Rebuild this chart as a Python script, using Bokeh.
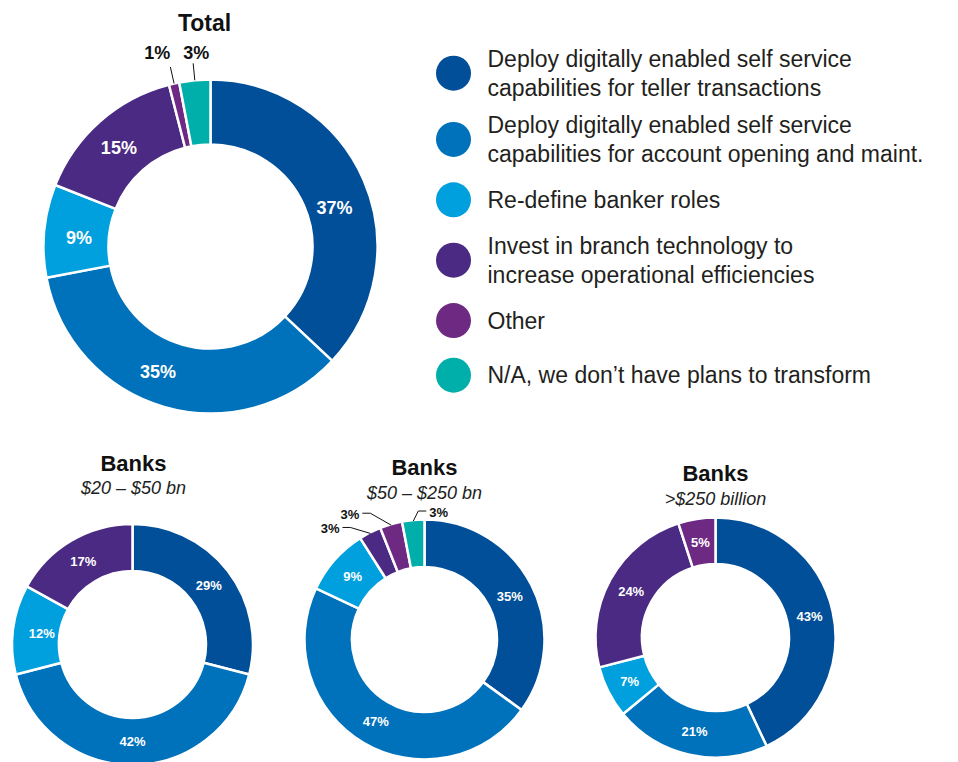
import math
from bokeh.plotting import figure
from bokeh.models import Range1d
from bokeh.core.properties import value
from bokeh.embed import file_html
from bokeh.resources import INLINE

# ---------------- data ----------------
categories = [
    "Deploy digitally enabled self service\ncapabilities for teller transactions",
    "Deploy digitally enabled self service\ncapabilities for account opening and maint.",
    "Re-define banker roles",
    "Invest in branch technology to\nincrease operational efficiencies",
    "Other",
    "N/A, we don\u2019t have plans to transform",
]
total_values = [37, 35, 9, 15, 1, 3]
banks_20_50_values = [29, 42, 12, 17, 0, 0]
banks_50_250_values = [35, 47, 9, 3, 3, 3]
banks_250_plus_values = [43, 21, 7, 24, 5, 0]

chart_titles = ["Total", "Banks", "Banks", "Banks"]
chart_subtitles = ["", "$20 \u2013 $50 bn", "$50 \u2013 $250 bn", ">$250 billion"]

# ---------------- style / layout ----------------
colors = ["#004F98", "#0071BB", "#009FDD", "#4B2A83", "#6E2A83", "#00AFA9"]
FONT = value("Liberation Sans")
W, H = 958, 762


def X(px):
    return px


def Y(py):
    return H - py


charts = [
    dict(values=total_values, cx=210, cy=246, ro=166, ri=102, lab_size="18px",
         title_xy=(204, 22), title_size="23px", sub_xy=None,
         out_size="18px", leader="radial"),
    dict(values=banks_20_50_values, cx=132, cy=644, ro=119.5, ri=73.5, lab_size="13px",
         title_xy=(133, 463), title_size="22px", sub_xy=(133, 487),
         out_size="13px", leader="elbow"),
    dict(values=banks_50_250_values, cx=424, cy=639, ro=119, ri=72.5, lab_size="13px",
         title_xy=(424, 467), title_size="22px", sub_xy=(424, 492),
         out_size="13px", leader="elbow"),
    dict(values=banks_250_plus_values, cx=715, cy=637, ro=119, ri=73.5, lab_size="13px",
         title_xy=(715, 473), title_size="22px", sub_xy=(715, 498),
         out_size="13px", leader="elbow"),
]
# elbow offsets (screen px) for small slices labelled outside, by (chart, category)
elbow_offsets = {(2, 3): (-20, -6), (2, 4): (-21, -12), (2, 5): (5, -10)}
# text nudges (screen px) from the leader end for radial leaders
text_nudges = {(0, 4): (-13, -14), (0, 5): (3, -10)}
# small nudges (screen px) for inside labels
inside_nudges = {(0, 0): (1, 15), (0, 1): (-15, -3), (0, 2): (2, 4), (0, 3): (-3, 2),
                 (1, 2): (5, 1)}
OUTSIDE_MAX = 3

p = figure(width=W, height=H, x_range=Range1d(0, W), y_range=Range1d(0, H),
           output_backend="svg", toolbar_location=None,
           x_axis_type=None, y_axis_type=None, min_border=0)
p.outline_line_color = None
p.background_fill_color = "white"
p.border_fill_color = "white"

for ci, ch in enumerate(charts):
    vals = ch["values"]
    tot = float(sum(vals))
    cx, cy, ro, ri = ch["cx"], ch["cy"], ch["ro"], ch["ri"]
    xs, ys, sa, ea, cols = [], [], [], [], []
    in_x, in_y, in_t = [], [], []
    out_x, out_y, out_t, out_al = [], [], [], []
    lx, ly = [], []
    cum = 0.0
    for k, v in enumerate(vals):
        if v <= 0:
            continue
        s = cum / tot
        e = (cum + v) / tot
        cum += v
        xs.append(X(cx))
        ys.append(Y(cy))
        sa.append(math.pi / 2 - 2 * math.pi * e)
        ea.append(math.pi / 2 - 2 * math.pi * s)
        cols.append(colors[k])
        mid = 2 * math.pi * (s + e) / 2  # clockwise from top
        sx, sy = math.sin(mid), -math.cos(mid)  # screen direction (y down)
        if v > OUTSIDE_MAX:
            rm = (ro + ri) / 2
            nx, ny = inside_nudges.get((ci, k), (0, 0))
            in_x.append(X(cx + rm * sx + nx))
            in_y.append(Y(cy + rm * sy + ny))
            in_t.append(f"{v}%")
        else:
            if ch["leader"] == "radial":
                x0, y0 = cx + (ro + 1) * sx, cy + (ro + 1) * sy
                x1, y1 = cx + (ro + 18) * sx, cy + (ro + 18) * sy
                lx.append([X(x0), X(x1)])
                ly.append([Y(y0), Y(y1)])
                nx, ny = text_nudges.get((ci, k), (0, -12))
                out_x.append(X(x1 + nx))
                out_y.append(Y(y1 + ny))
                out_t.append(f"{v}%")
                out_al.append("center")
            else:
                dx, dy = elbow_offsets.get((ci, k), (-15, -8))
                x0, y0 = cx + ro * sx, cy + ro * sy
                ex, ey = x0 + dx, y0 + dy
                d = 1 if dx > 0 else -1
                hx = ex + 8 * d
                lx.append([X(x0), X(ex), X(hx)])
                ly.append([Y(y0), Y(ey), Y(ey)])
                out_x.append(X(hx + 3 * d))
                out_y.append(Y(ey + 1))
                out_t.append(f"{v}%")
                out_al.append("left" if d > 0 else "right")
    p.annular_wedge(x=xs, y=ys, inner_radius=ri, outer_radius=ro + 1,
                    start_angle=sa, end_angle=ea, fill_color=cols,
                    line_color="white", line_width=2.5)
    p.text(x=in_x, y=in_y, text=in_t, text_font=FONT, text_font_size=ch["lab_size"],
           text_font_style="bold", text_color="white", text_align="center",
           text_baseline="middle")
    if lx:
        p.multi_line(xs=lx, ys=ly, line_color="#111111", line_width=1)
        p.text(x=out_x, y=out_y, text=out_t, text_align=out_al, text_font=FONT,
               text_font_size=ch["out_size"], text_font_style="bold",
               text_color="#111111", text_baseline="middle")
    tx, ty = ch["title_xy"]
    p.text(x=[X(tx)], y=[Y(ty)], text=[chart_titles[ci]], text_font=FONT,
           text_font_size=ch["title_size"], text_font_style="bold",
           text_color="#111111", text_align="center", text_baseline="middle")
    if ch["sub_xy"] is not None:
        sx_, sy_ = ch["sub_xy"]
        p.text(x=[X(sx_)], y=[Y(sy_)], text=[chart_subtitles[ci]], text_font=FONT,
               text_font_size="18px", text_font_style="italic",
               text_color="#222222", text_align="center", text_baseline="middle")

# ---------------- legend ----------------
LEG_CX, LEG_TX, LEG_Y0, LEG_R = 453, 487, 72.7, 17.5
LINE_H = 29
BASE_STEP, EXTRA_STEP = 54.6, 5.8
cy_leg = LEG_Y0
leg_x, leg_y, leg_c = [], [], []
t_x, t_y, t_t = [], [], []
prev_lines = None
for k, lab in enumerate(categories):
    lines = lab.split("\n")
    if prev_lines is not None:
        cy_leg += BASE_STEP + EXTRA_STEP * ((prev_lines - 1) + (len(lines) - 1))
    prev_lines = len(lines)
    leg_x.append(X(LEG_CX))
    leg_y.append(Y(cy_leg))
    leg_c.append(colors[k])
    n = len(lines)
    for j, ln in enumerate(lines):
        t_x.append(X(LEG_TX))
        t_y.append(Y(cy_leg + (j - (n - 1) / 2) * LINE_H))
        t_t.append(ln)
p.circle(x=leg_x, y=leg_y, radius=LEG_R, fill_color=leg_c, line_color=None)
p.text(x=t_x, y=t_y, text=t_t, text_font=FONT, text_font_size="23px",
       text_color="#231F20", text_align="left", text_baseline="middle")

open("out.html", "w").write(file_html(p, INLINE))
